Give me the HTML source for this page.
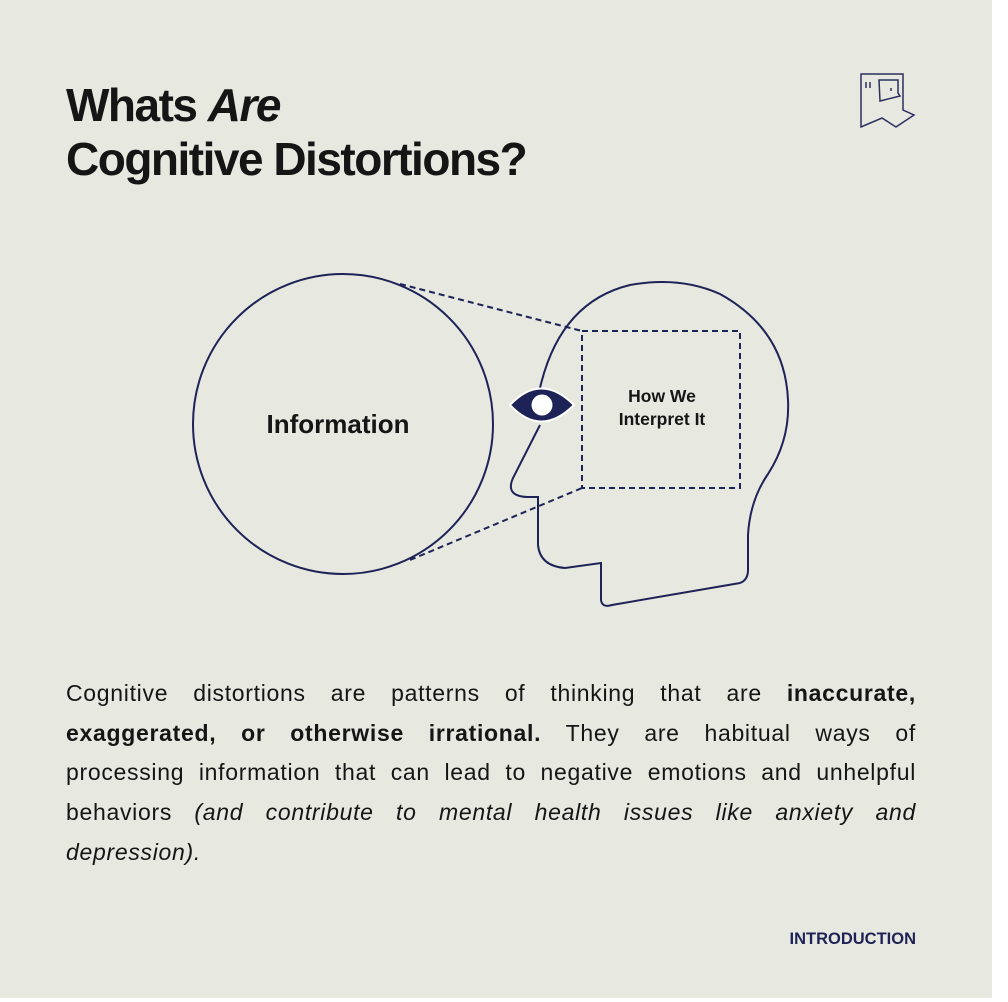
<!DOCTYPE html>
<html><head><meta charset="utf-8"><style>
html,body{margin:0;padding:0;background:#fff;}
#bg{position:absolute;left:0;top:0;width:992px;height:998px;background:#e7e8e0;}
h1{position:absolute;left:66px;top:78px;margin:0;font:bold 46px/54px "Liberation Sans",sans-serif;letter-spacing:-1.5px;color:#151515;}
#body{position:absolute;left:66px;top:674px;width:850px;font:23px/39.7px "Liberation Sans",sans-serif;letter-spacing:0.7px;color:#151515;}
#body div{text-align:justify;text-align-last:justify;white-space:nowrap;}
#body div.l{text-align-last:left;}
</style></head><body>
<div id="bg"></div>
<h1>Whats <i>Are</i><br>Cognitive Distortions?</h1>
<svg style="position:absolute;left:0;top:0" width="1008" height="1002">
<g fill="none" stroke="#2a2f5e" stroke-width="1.5">
<path d="M861,74 L903,74 L903,110 L914,115 L896,127 L882,118 L861,127 Z"/>
<path d="M866,82 L866,88 M870,82 L870,88"/>
<path d="M879,80 L898,80 L898,93 L900,96 L880,101 Z"/>
<path d="M891,88 L891,91"/>
</g>
<circle cx="343" cy="424" r="150" fill="none" stroke="#1d2357" stroke-width="2"/>
<g stroke="#1d2357" stroke-width="2" fill="none" stroke-dasharray="6,4">
<line x1="400" y1="284" x2="582" y2="331"/>
<line x1="410" y1="560" x2="582" y2="488"/>
<rect x="582" y="331" width="158" height="157"/>
</g>
<path d="M540,425 L513,478 Q505,496 527,497 L538,497 L538,545 Q540,566 565,568 L601,563 L601,600 Q602,608 612,605 L740,583 Q748,580 748,570 L748,535 Q750,500 768,474 Q790,440 788,400 Q785,330 720,294 Q680,276 630,285 Q560,302 540,388" fill="none" stroke="#1d2357" stroke-width="2"/>
<path d="M510,405 Q541,372 574,405 Q541,438 510,405 Z" fill="#1d2357" stroke="#fff" stroke-width="2"/>
<circle cx="542" cy="405" r="10.5" fill="#fff"/>
<text x="338" y="433" text-anchor="middle" font-family="Liberation Sans,sans-serif" font-weight="bold" font-size="26" fill="#151515">Information</text>
<text x="662" y="402" text-anchor="middle" font-family="Liberation Sans,sans-serif" font-weight="bold" font-size="17.5" fill="#151515">How We</text>
<text x="662" y="425" text-anchor="middle" font-family="Liberation Sans,sans-serif" font-weight="bold" font-size="17.5" fill="#151515">Interpret It</text>
<text x="916" y="944" text-anchor="end" font-family="Liberation Sans,sans-serif" font-weight="bold" font-size="16.5" fill="#1d2357">INTRODUCTION</text>
</svg>
<div id="body">
<div>Cognitive distortions are patterns of thinking that are <b>inaccurate,</b></div>
<div><b>exaggerated, or otherwise irrational.</b> They are habitual ways of</div>
<div>processing information that can lead to negative emotions and unhelpful</div>
<div>behaviors <i>(and contribute to mental health issues like anxiety and</i></div>
<div class="l"><i>depression).</i></div>
</div>
</body></html>
